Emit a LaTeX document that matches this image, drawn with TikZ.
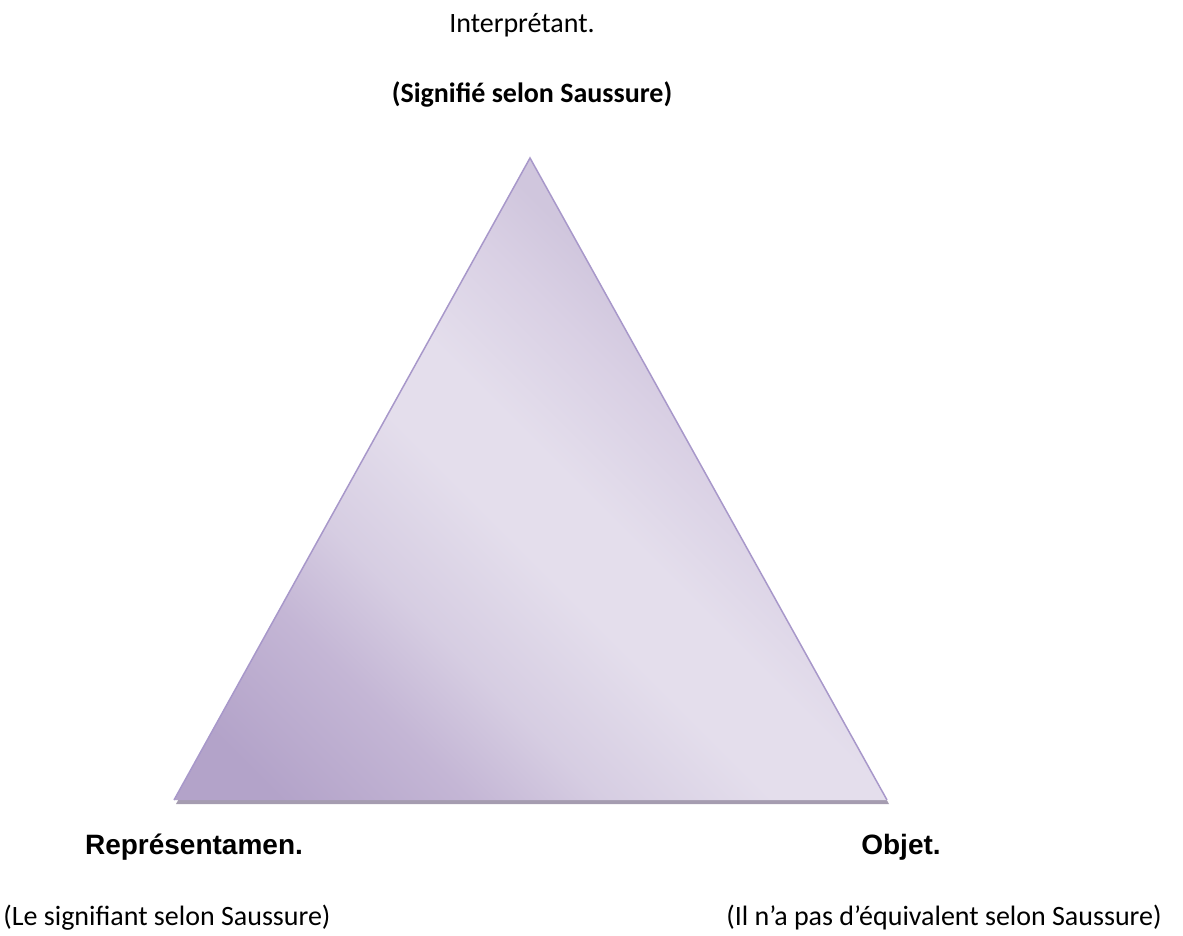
\documentclass[tikz,border=0pt]{standalone}
\usepackage{fontspec}
\setmainfont{Carlito}
\newfontfamily\arialfont{Liberation Sans}
\usetikzlibrary{positioning}

\definecolor{tridark}{HTML}{B3A3C9}
\definecolor{trimid}{HTML}{C4B6D5}
\definecolor{trisoft}{HTML}{D6CDE2}
\definecolor{trilight}{HTML}{E4DEEC}
\definecolor{trifade}{HTML}{D9D0E4}
\definecolor{tritop}{HTML}{D0C6DD}
\definecolor{triedge}{HTML}{A898CA}
\definecolor{trishadow}{HTML}{A59CB0}

\pgfdeclarehorizontalshading{trigloss}{100bp}{color(0bp)=(tridark); color(20bp)=(tridark); color(30bp)=(trimid); color(37bp)=(trisoft); color(46bp)=(trilight); color(52bp)=(trilight); color(60bp)=(trifade); color(65bp)=(tritop); color(100bp)=(tritop)}

\begin{document}
\begin{tikzpicture}[x=1pt, y=-1pt, every node/.style={inner sep=0pt, anchor=base, font=\fontsize{28}{32}\selectfont}]
        \useasboundingbox (0,0) rectangle (1183,936);

        % Corners of the triangle
        \coordinate (interp) at (530,158);
        \coordinate (repr) at (174,800);
        \coordinate (obj) at (887,800);

        % Shadow, shaded body and edge
        \fill[trishadow] ([shift={(2,4)}]repr) -- ([shift={(2,4)}]interp) -- ([shift={(2,4)}]obj) -- cycle;
        \shade[shading=trigloss, shading angle=45] (repr) -- (interp) -- (obj) -- cycle;
        \draw[triedge, line width=1.5pt, line join=miter] (repr) -- (interp) -- (obj);

        % Labels
        \node (interpname) at (522,33) {Interprétant.};
        \node (interpnote) at (532,103) {\bfseries (Signifié selon Saussure)};
        \node (reprname) at (194,854) {\arialfont\bfseries Représentamen.};
        \node (objname) at (901,854) {\arialfont\bfseries Objet.};
        \node (reprnote) at (167,925) {(Le signifiant selon Saussure)};
        \node (objnote) at (944,925) {(Il n’a pas d’équivalent selon Saussure)};
      \end{tikzpicture}
\end{document}
